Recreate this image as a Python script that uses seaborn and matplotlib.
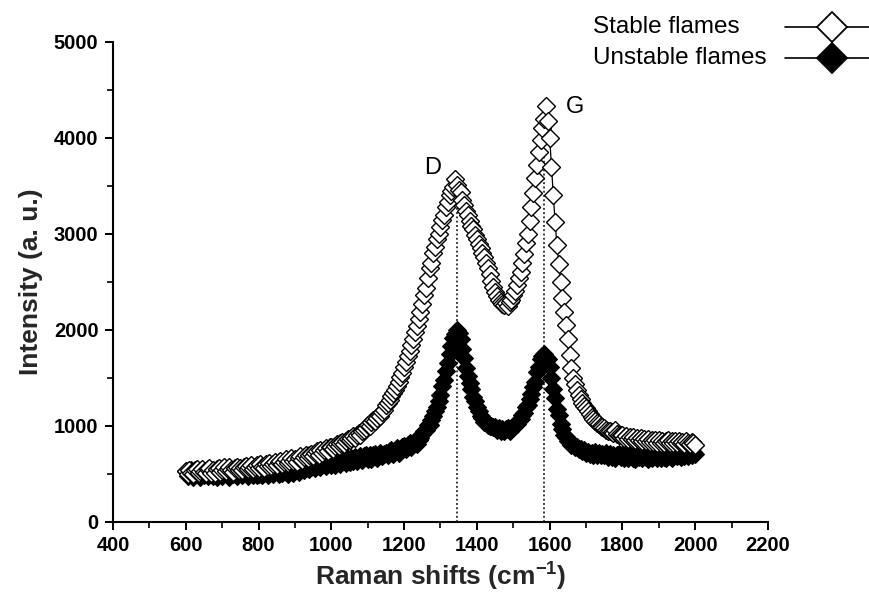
import numpy as np
import matplotlib
matplotlib.use("Agg")
import matplotlib.pyplot as plt
import seaborn as sns
from matplotlib.ticker import MultipleLocator
from matplotlib.lines import Line2D

# ---------------- data ----------------
shift_start = 600      # cm^-1, first sample
shift_step = 5         # cm^-1, sampling grid

stable_intensity = [
    530, 500, 540, 510, 495, 535, 545, 505, 525, 550,        # 600
    520, 505, 545, 555, 510, 535, 510, 550, 560, 520,        # 650
    540, 565, 525, 550, 570, 535, 520, 560, 575, 540,        # 700
    560, 535, 575, 585, 545, 565, 590, 550, 575, 595,        # 750
    560, 600, 575, 555, 605, 580, 615, 585, 605, 625,        # 800
    590, 620, 635, 600, 625, 650, 610, 635, 660, 630,        # 850
    650, 625, 665, 685, 645, 675, 700, 660, 690, 710,        # 900
    685, 715, 735, 695, 745, 720, 750, 770, 735, 775,        # 950
    775, 760, 790, 805, 785, 815, 830, 810, 845, 860,        # 1000
    850, 875, 890, 870, 905, 920, 900, 940, 955, 975,        # 1050
    1010, 1000, 1035, 1060, 1050, 1085, 1110, 1100, 1140, 1165,  # 1100
    1215, 1240, 1270, 1305, 1340, 1370, 1415, 1460, 1510, 1545,  # 1150
    1610, 1660, 1725, 1780, 1845, 1905, 1975, 2040, 2115, 2185,  # 1200
    2270, 2360, 2430, 2540, 2640, 2700, 2800, 2860, 2940, 3000,  # 1250
    3070, 3140, 3200, 3280, 3330, 3400, 3450, 3490, 3570, 3510,  # 1300
    3460, 3430, 3350, 3300, 3240, 3200, 3130, 3080, 3050, 2990,  # 1350
    2940, 2890, 2850, 2800, 2760, 2700, 2640, 2580, 2510, 2440,  # 1400
    2390, 2350, 2310, 2290, 2270, 2260, 2280, 2250, 2290, 2310,  # 1450
    2360, 2400, 2470, 2540, 2600, 2700, 2790, 2900, 3000, 3130,  # 1500
    3280, 3420, 3580, 3720, 3850, 3980, 4100, 4200, 4330, 4170,  # 1550
    4000, 3700, 3400, 3120, 2880, 2680, 2500, 2330, 2180, 2050,  # 1600
    1900, 1740, 1600, 1500, 1430, 1370, 1320, 1280, 1240, 1210,  # 1650
    1180, 1150, 1120, 1095, 1075, 1050, 1030, 1015, 1000, 985,   # 1700
    975, 960, 950, 940, 935, 925, 955, 915, 905, 900,            # 1750
    900, 870, 895, 860, 885, 860, 880, 850, 875, 850,            # 1800
    870, 845, 865, 840, 860, 835, 855, 830, 850, 825,            # 1850
    850, 825, 845, 820, 840, 850, 820, 840, 815, 845,            # 1900
    820, 840, 815, 835, 810, 845, 820, 810, 835, 815,            # 1950
    795,                                                         # 2000
]

unstable_intensity = [
    530, 480, 510, 540, 470, 505, 525, 485, 470, 515,        # 600
    490, 525, 475, 505, 535, 480, 515, 470, 500, 530,        # 650
    480, 515, 535, 490, 470, 520, 495, 540, 480, 510,        # 700
    525, 485, 505, 535, 480, 515, 540, 490, 525, 485,        # 750
    500, 535, 490, 545, 505, 485, 540, 520, 495, 550,        # 800
    525, 495, 545, 510, 555, 520, 500, 560, 530, 510,        # 850
    540, 565, 515, 550, 575, 535, 560, 585, 545, 570,        # 900
    590, 555, 585, 610, 565, 600, 620, 580, 610, 630,        # 950
    595, 635, 590, 625, 645, 605, 635, 660, 615, 650,        # 1000
    625, 665, 635, 675, 630, 665, 685, 640, 680, 695,        # 1050
    655, 690, 650, 695, 710, 665, 700, 720, 680, 710,        # 1100
    720, 690, 735, 750, 705, 740, 765, 720, 755, 780,        # 1150
    785, 755, 800, 820, 780, 820, 845, 810, 855, 875,        # 1200
    910, 950, 960, 1005, 1010, 1060, 1100, 1150, 1200, 1260,     # 1250
    1320, 1410, 1480, 1570, 1650, 1750, 1830, 1910, 1960, 2000,  # 1300
    1970, 1900, 1800, 1710, 1600, 1520, 1440, 1380, 1300, 1255,  # 1350
    1190, 1150, 1100, 1080, 1040, 1040, 1005, 1000, 995, 985,    # 1400
    985, 955, 980, 945, 970, 940, 965, 975, 945, 970,            # 1450
    990, 1005, 1015, 1055, 1065, 1110, 1135, 1190, 1215, 1280,   # 1500
    1330, 1400, 1455, 1560, 1615, 1700, 1730, 1750, 1720, 1690,  # 1550
    1610, 1500, 1380, 1290, 1175, 1110, 1015, 970, 905, 880,     # 1600
    840, 835, 800, 805, 775, 780, 755, 760, 740, 745,            # 1650
    720, 730, 710, 720, 700, 725, 695, 715, 690, 710,            # 1700
    695, 715, 670, 705, 675, 700, 665, 690, 710, 670,            # 1750
    700, 665, 690, 660, 685, 705, 665, 655, 695, 670,            # 1800
    690, 660, 700, 670, 655, 695, 660, 685, 700, 665,            # 1850
    695, 660, 700, 675, 665, 710, 680, 660, 700, 715,            # 1900
    680, 705, 670, 715, 685, 720, 680, 710, 690, 725,            # 1950
    705,                                                         # 2000
]

series_names = ["Stable flames", "Unstable flames"]
peak_labels = ["D", "G"]
peak_shifts = [1345, 1585]          # dotted guide lines
peak_tops = [3300, 4200]            # height the guide lines reach
peak_label_pos = [(1277, 3684), (1670, 4323)]

x_label = "Raman shifts (cm$^{-1}$)"
y_label = "Intensity (a. u.)"
x_limits = (400, 2200)
y_limits = (0, 5000)

# ---------------- style ----------------
sns.set_theme(style="ticks")
plt.rcParams["font.family"] = ["Liberation Sans", "DejaVu Sans"]
plt.rcParams["mathtext.fontset"] = "custom"
plt.rcParams["mathtext.rm"] = "Liberation Sans:bold"
plt.rcParams["mathtext.bf"] = "Liberation Sans:bold"
plt.rcParams["mathtext.it"] = "Liberation Sans:bold"
plt.rcParams["mathtext.default"] = "rm"

W, H = 870, 592
fig = plt.figure(figsize=(W / 100, H / 100), dpi=100)
fig.patch.set_facecolor("white")
ax = fig.add_axes([113 / W, 1 - 521.7 / H, 655 / W, 480 / H])
ax.set_facecolor("white")

x_stable = shift_start + shift_step * np.arange(len(stable_intensity))
x_unstable = shift_start + shift_step * np.arange(len(unstable_intensity))

MS = 9.6
# guide lines
for px, top in zip(peak_shifts, peak_tops):
    ax.vlines(px, 0, top, colors="black", linestyles=(0, (1.2, 1.6)),
              linewidth=1.1, zorder=1)

sns.lineplot(x=x_unstable, y=unstable_intensity, ax=ax, color="black",
             linewidth=0.9, marker="D", markersize=MS,
             markerfacecolor="black", markeredgecolor="black",
             markeredgewidth=0.8, estimator=None, sort=False, legend=False,
             zorder=2)
sns.lineplot(x=x_stable, y=stable_intensity, ax=ax, color="black",
             linewidth=0.9, marker="D", markersize=MS,
             markerfacecolor="white", markeredgecolor="black",
             markeredgewidth=1.0, estimator=None, sort=False, legend=False,
             zorder=3)

for lab, (lx, ly) in zip(peak_labels, peak_label_pos):
    ax.text(lx, ly, lab, fontsize=17, ha="center", va="center", color="black")

ax.set_xlim(*x_limits)
ax.set_ylim(*y_limits)
ax.xaxis.set_major_locator(MultipleLocator(200))
ax.xaxis.set_minor_locator(MultipleLocator(100))
ax.yaxis.set_major_locator(MultipleLocator(1000))
ax.yaxis.set_minor_locator(MultipleLocator(500))

for side in ["top", "right"]:
    ax.spines[side].set_visible(False)
for side in ["left", "bottom"]:
    ax.spines[side].set_linewidth(1.5)
    ax.spines[side].set_color("black")

ax.tick_params(axis="both", which="major", direction="out", length=6,
               width=1.4, colors="black", labelsize=14.5, pad=4.5)
ax.tick_params(axis="both", which="minor", direction="out", length=4,
               width=1.2, colors="black")
for t in ax.get_xticklabels() + ax.get_yticklabels():
    t.set_fontweight("bold")

ax.set_xlabel(x_label, fontsize=19, fontweight="bold", labelpad=4)
ax.set_ylabel(y_label, fontsize=19, fontweight="bold", labelpad=8)

# ---------------- legend (text left, sample to the right) ----------------
legend_rows_y = [26.7, 58.3]           # pixel rows from the top
legend_text_x = 593
legend_line_x = (785, 885)
legend_marker_x = 832
legend_faces = ["white", "black"]
for name, row_y, face in zip(series_names, legend_rows_y, legend_faces):
    fy = 1 - row_y / H
    fig.text(legend_text_x / W, fy, name, fontsize=17.5, ha="left",
             va="center", color="black")
    fig.add_artist(Line2D([legend_line_x[0] / W, legend_line_x[1] / W],
                          [fy, fy], transform=fig.transFigure,
                          color="black", linewidth=1.2))
    fig.add_artist(Line2D([legend_marker_x / W], [fy],
                          transform=fig.transFigure, linestyle="none",
                          marker="D", markersize=15, markerfacecolor=face,
                          markeredgecolor="black", markeredgewidth=1.3))

fig.savefig("out.png", dpi=100, facecolor="white")
